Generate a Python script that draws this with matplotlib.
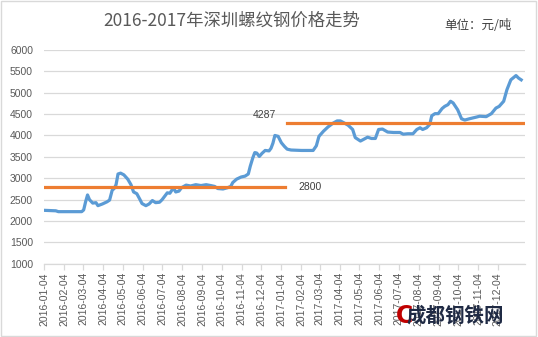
import matplotlib.pyplot as plt
import matplotlib.dates as mdates
import pandas as pd
from matplotlib.patches import Rectangle

# 深圳螺纹钢价格（元/吨）
dates = ["2016-01-06", "2016-01-22", "2016-01-26", "2016-03-02", "2016-03-05", "2016-03-08",
         "2016-03-11", "2016-03-14", "2016-03-19", "2016-03-24", "2016-03-27", "2016-04-03",
         "2016-04-10", "2016-04-14", "2016-04-18", "2016-04-21", "2016-04-24", "2016-04-27",
         "2016-05-01", "2016-05-06", "2016-05-12", "2016-05-17", "2016-05-21", "2016-05-26",
         "2016-05-31", "2016-06-03", "2016-06-09", "2016-06-14", "2016-06-19", "2016-06-24",
         "2016-06-30", "2016-07-04", "2016-07-09", "2016-07-12", "2016-07-16", "2016-07-19",
         "2016-07-22", "2016-07-25", "2016-07-30", "2016-08-03", "2016-08-10", "2016-08-17",
         "2016-08-25", "2016-09-02", "2016-09-10", "2016-09-17", "2016-09-23", "2016-09-28",
         "2016-10-06", "2016-10-13", "2016-10-18", "2016-10-21", "2016-10-27", "2016-11-03",
         "2016-11-09", "2016-11-14", "2016-11-17", "2016-11-21", "2016-11-24", "2016-11-27",
         "2016-12-01", "2016-12-05", "2016-12-10", "2016-12-16", "2016-12-19", "2016-12-22",
         "2016-12-25", "2016-12-30", "2017-01-04", "2017-01-09", "2017-01-13", "2017-01-19",
         "2017-02-04", "2017-02-22", "2017-02-27", "2017-03-03", "2017-03-10", "2017-03-17",
         "2017-03-25", "2017-03-31", "2017-04-05", "2017-04-10", "2017-04-17", "2017-04-24",
         "2017-04-28", "2017-05-06", "2017-05-11", "2017-05-17", "2017-05-23", "2017-05-29",
         "2017-06-03", "2017-06-09", "2017-06-17", "2017-06-26", "2017-07-06", "2017-07-11",
         "2017-07-18", "2017-07-26", "2017-08-01", "2017-08-06", "2017-08-10", "2017-08-16",
         "2017-08-21", "2017-08-24", "2017-08-29", "2017-09-03", "2017-09-09", "2017-09-13",
         "2017-09-18", "2017-09-22", "2017-09-26", "2017-10-03", "2017-10-09", "2017-10-14",
         "2017-10-21", "2017-11-01", "2017-11-06", "2017-11-16", "2017-11-24", "2017-12-01",
         "2017-12-06", "2017-12-13", "2017-12-18", "2017-12-24", "2018-01-01", "2018-01-05",
         "2018-01-09"]
prices = [2250, 2240, 2220, 2220, 2260, 2450,
          2610, 2500, 2420, 2430, 2360, 2400,
          2450, 2490, 2720, 2760, 2850, 3100,
          3120, 3080, 2980, 2850, 2680, 2640,
          2500, 2410, 2360, 2400, 2480, 2430,
          2440, 2500, 2600, 2660, 2650, 2720,
          2760, 2680, 2700, 2780, 2840, 2820,
          2850, 2830, 2850, 2830, 2810, 2760,
          2750, 2780, 2810, 2900, 2980, 3030,
          3050, 3100, 3280, 3480, 3600, 3590,
          3510, 3580, 3650, 3640, 3700, 3820,
          4000, 3980, 3830, 3740, 3680, 3660,
          3650, 3650, 3760, 3980, 4100, 4200,
          4290, 4340, 4340, 4300, 4240, 4140,
          3950, 3870, 3910, 3960, 3930, 3930,
          4140, 4150, 4080, 4070, 4070, 4030,
          4040, 4040, 4140, 4180, 4140, 4180,
          4260, 4460, 4510, 4510, 4630, 4680,
          4720, 4800, 4760, 4600, 4390, 4360,
          4390, 4430, 4450, 4440, 4510, 4640,
          4680, 4800, 5070, 5300, 5400, 5340,
          5300]

# 均价线
avg_2016 = 2800
avg_2017 = 4287
avg_2016_span = ["2016-01-04", "2017-01-10"]
avg_2017_span = ["2017-01-12", "2018-01-14"]

tick_dates = pd.date_range("2016-01-04", "2017-12-04", freq=pd.DateOffset(months=1))

plt.rcParams['font.family'] = ['Noto Sans CJK SC', 'DejaVu Sans']

fig = plt.figure(figsize=(5.38, 3.37), dpi=100)
ax = fig.add_axes([0.082, 0.217, 0.894, 0.635])

x = pd.to_datetime(dates)
ax.plot(x, prices, color='#5B9BD5', lw=2.3, solid_joinstyle='round', zorder=3)
ax.plot(pd.to_datetime(avg_2016_span), [avg_2016, avg_2016], color='#ED7D31', lw=2.3, zorder=4)
ax.plot(pd.to_datetime(avg_2017_span), [avg_2017, avg_2017], color='#ED7D31', lw=2.3, zorder=4)

ax.text(pd.Timestamp("2017-01-30"), avg_2016, str(avg_2016), fontsize=7.5, color='#404040',
        family='Liberation Sans', va='center', ha='left')
ax.text(pd.Timestamp("2016-12-09"), avg_2017 + 70, str(avg_2017), fontsize=7.5, color='#404040',
        family='Liberation Sans', va='bottom', ha='center')

ax.set_ylim(1000, 6000)
ax.set_yticks(range(1000, 6001, 500))
ax.set_xlim(pd.Timestamp("2016-01-04"), pd.Timestamp("2018-01-15"))
ax.set_xticks(tick_dates)
ax.xaxis.set_major_formatter(mdates.DateFormatter('%Y-%m-%d'))
ax.grid(axis='y', color='#D9D9D9', lw=0.9)
ax.set_axisbelow(True)

for s in ['top', 'right', 'left']:
    ax.spines[s].set_visible(False)
ax.spines['bottom'].set_color('#D9D9D9')
ax.spines['bottom'].set_linewidth(0.9)
ax.tick_params(axis='y', length=0, pad=8, labelsize=7.5, labelcolor='#595959')
ax.tick_params(axis='x', length=4, color='#D9D9D9', width=0.9, labelsize=7.5,
               labelcolor='#595959', rotation=90, pad=2)
for lab in ax.get_xticklabels() + ax.get_yticklabels():
    lab.set_family('Liberation Sans')

fig.text(0.43, 0.938, "2016-2017年深圳螺纹钢价格走势", fontsize=12.5, color='#595959',
         ha='center', va='center')
fig.text(0.952, 0.925, "单位：元/吨", fontsize=9, color='#404040', ha='right', va='center')

# 水印
fig.text(0.735, 0.062, "C", fontsize=17, color='#C00000', fontweight='bold',
         ha='left', va='center', family='DejaVu Sans')
fig.text(0.755, 0.062, "成都钢铁网", fontsize=14, color='#1F2A44', fontweight='bold',
         ha='left', va='center')

fig.patches.append(Rectangle((0.002, 0.003), 0.995, 0.993, transform=fig.transFigure,
                             fill=False, edgecolor='#D9D9D9', lw=1))

fig.savefig("out.png", dpi=100)
